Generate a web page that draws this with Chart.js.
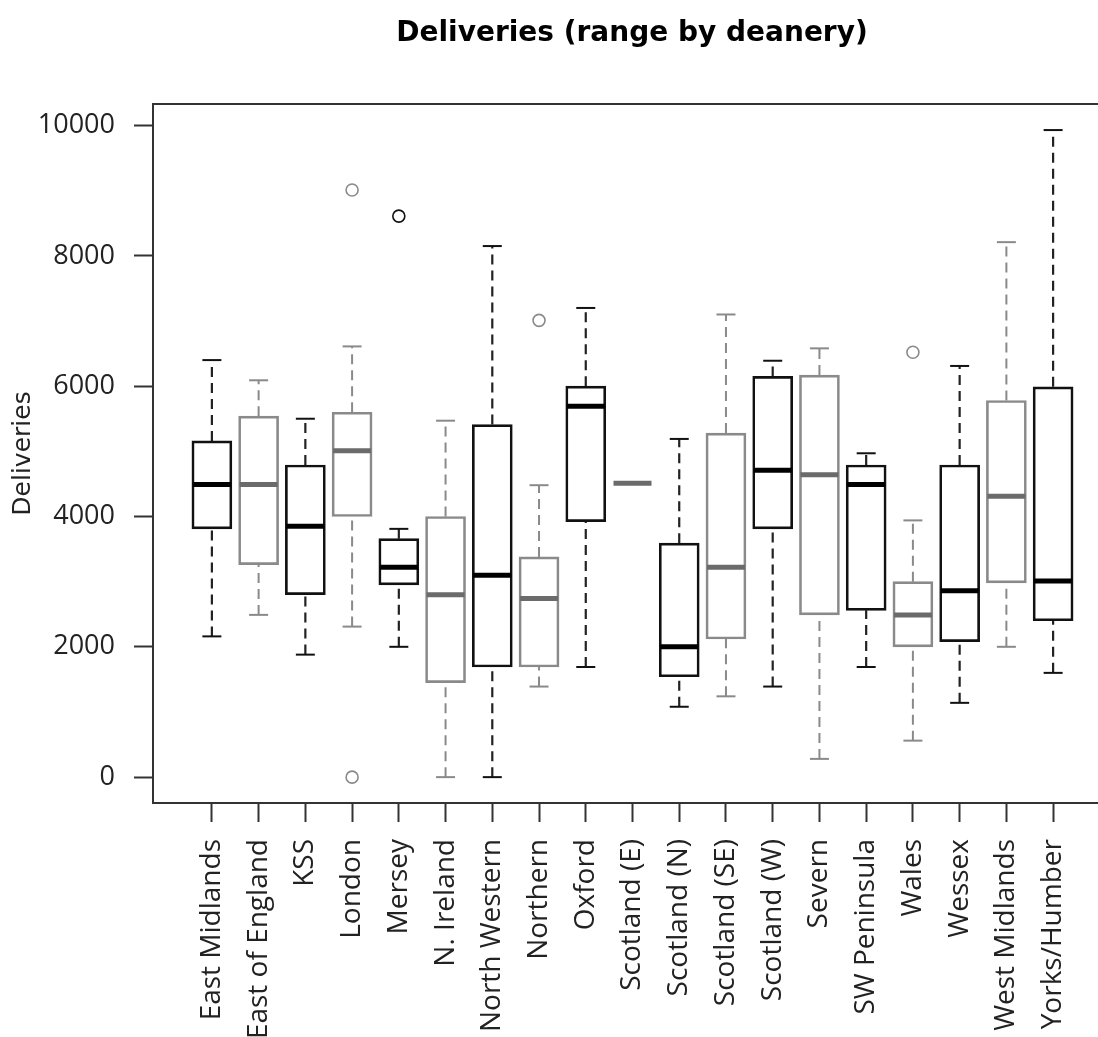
<!DOCTYPE html>
<html>
<head>
<meta charset="utf-8">
<title>Deliveries (range by deanery)</title>
<script src="https://cdn.jsdelivr.net/npm/chart.js@4.4.1/dist/chart.umd.min.js"></script>
<style>
  html, body { margin: 0; padding: 0; background: #fff; overflow: hidden; }
  canvas { display: block; }
</style>
</head>
<body>
<canvas id="deliveriesChart" width="1264" height="1037"></canvas>
<script>
// Deaneries, in plotting order
const categories = [
  "East Midlands", "East of England", "KSS", "London", "Mersey",
  "N. Ireland", "North Western", "Northern", "Oxford", "Scotland (E)",
  "Scotland (N)", "Scotland (SE)", "Scotland (W)", "Severn", "SW Peninsula",
  "Wales", "Wessex", "West Midlands", "Yorks/Humber",
];

// Five-number summaries
const whiskerLow  = [2160, 2490, 1880, 2310, 2000,    0,    0, 1390, 1690, 4510, 1080, 1240, 1390,  280, 1690,  560, 1140, 2000, 1600];
const q1          = [3810, 3260, 2800, 4000, 2950, 1450, 1690, 1690, 3920, 4510, 1540, 2120, 3810, 2490, 2560, 2000, 2080, 2980, 2400];
const median      = [4490, 4490, 3850, 5010, 3220, 2800, 3100, 2740, 5690, 4510, 2000, 3220, 4710, 4640, 4490, 2490, 2860, 4310, 3010];
const q3          = [5160, 5540, 4790, 5600, 3660, 4000, 5410, 3380, 6000, 4510, 3590, 5280, 6150, 6170, 4790, 3000, 4790, 5780, 5990];
const whiskerHigh = [6400, 6090, 5500, 6610, 3810, 5470, 8150, 4480, 7200, 4510, 5190, 7100, 6390, 6580, 4970, 3940, 6310, 8210, 9930];

// Outliers: category index and value
const outlierCategory = [3, 3, 4, 7, 15];
const outlierValue    = [9010, 0, 8610, 7010, 6520];

const yTicks = [0, 2000, 4000, 6000, 8000, 10000];

// boxes alternate black / grey
const BOX_BLACK = "#111111";
const BOX_GREY = "#8a8a8a";
const MED_BLACK = "#000000";
const MED_GREY = "#6b6b6b";
function isGrey(i) { return i % 2 === 1; }
function boxColor(i) { return isGrey(i) ? BOX_GREY : BOX_BLACK; }

const xs = categories.map((c, i) => i + 1);
const hasBox = categories.map((c, i) => whiskerHigh[i] > whiskerLow[i]);

const boxData = [];
const capData = [];
xs.forEach((x, i) => {
  if (!hasBox[i]) return;
  boxData.push({ x: x, y: [q1[i], q3[i]], c: i });
  capData.push({ x: x, y: whiskerLow[i], c: i }, { x: x, y: whiskerHigh[i], c: i });
});

function whiskerPoints(grey) {
  const pts = [];
  xs.forEach((x, i) => {
    if (!hasBox[i] || isGrey(i) !== grey) return;
    pts.push({ x: x, y: q3[i] }, { x: x, y: whiskerHigh[i] }, { x: x, y: null });
    pts.push({ x: x, y: whiskerLow[i] }, { x: x, y: q1[i] }, { x: x, y: null });
  });
  return pts;
}

const medianData = xs.map((x, i) => ({ x: x, y: median[i], c: i }));
const outlierData = outlierCategory.map((c, k) => ({ x: c + 1, y: outlierValue[k], c: c }));

// box frame around the plot region
const framePlugin = {
  id: "frame",
  afterDraw(chart) {
    const { ctx, chartArea } = chart;
    ctx.save();
    ctx.strokeStyle = "#333";
    ctx.lineWidth = 2;
    ctx.strokeRect(chartArea.left, chartArea.top,
      chartArea.right - chartArea.left, chartArea.bottom - chartArea.top);
    ctx.restore();
  },
};

const tickFont = { family: "Open Sans", size: 27 };

const ctx = document.getElementById("deliveriesChart").getContext("2d");
const deliveriesChart = new Chart(ctx, {
  type: "bar",
  data: {
    datasets: [
      {
        type: "scatter",
        data: medianData,
        pointStyle: "line",
        pointRadius: 19,
        pointHoverRadius: 19,
        pointBorderWidth: 5,
        pointHoverBorderWidth: 5,
        pointBorderColor: (c) => (isGrey(c.raw.c) ? MED_GREY : MED_BLACK),
      },
      {
        type: "scatter",
        data: capData,
        pointStyle: "line",
        pointRadius: 9.5,
        pointHoverRadius: 9.5,
        pointBorderWidth: 2,
        pointBorderColor: (c) => boxColor(c.raw.c),
      },
      {
        type: "scatter",
        data: outlierData,
        pointStyle: "circle",
        pointRadius: 6,
        pointHoverRadius: 6,
        pointBorderWidth: 1.6,
        pointBackgroundColor: "#fff",
        pointBorderColor: (c) => boxColor(c.raw.c),
      },
      {
        type: "bar",
        data: boxData,
        backgroundColor: "rgba(0,0,0,0)",
        borderColor: (c) => boxColor(c.raw.c),
        borderWidth: 2,
        borderSkipped: false,
        barThickness: 40,
      },
      {
        type: "line",
        data: whiskerPoints(false),
        borderColor: "#222",
        borderWidth: 2.2,
        borderDash: [10, 6],
        pointRadius: 0,
        spanGaps: false,
        fill: false,
      },
      {
        type: "line",
        data: whiskerPoints(true),
        borderColor: BOX_GREY,
        borderWidth: 2,
        borderDash: [10, 6],
        pointRadius: 0,
        spanGaps: false,
        fill: false,
      },
    ],
  },
  options: {
    responsive: false,
    devicePixelRatio: 1,
    animation: false,
    scales: {
      x: {
        type: "linear",
        min: -0.26,
        max: 20.26,
        offset: false,
        afterBuildTicks: (scale) => {
          scale.ticks = xs.map((v) => ({ value: v }));
        },
        afterFit: (scale) => {
          scale.height = 234;
        },
        grid: {
          drawOnChartArea: false,
          drawTicks: true,
          tickLength: 19,
          tickWidth: 2,
          tickColor: "#333",
          offset: false,
        },
        border: { display: false },
        ticks: {
          autoSkip: false,
          maxRotation: 90,
          minRotation: 90,
          padding: 17,
          color: "#222",
          font: { family: "Open Sans", size: 28 },
          callback: function (value) {
            return categories[value - 1];
          },
        },
      },
      y: {
        type: "linear",
        min: -397,
        max: 10330,
        afterBuildTicks: (scale) => {
          scale.ticks = yTicks.map((v) => ({ value: v }));
        },
        afterFit: (scale) => {
          scale.width = 153;
        },
        grid: {
          drawOnChartArea: false,
          drawTicks: true,
          tickLength: 19,
          tickWidth: 2,
          tickColor: "#333",
        },
        border: { display: false },
        ticks: {
          padding: 19,
          color: "#222",
          font: tickFont,
          callback: function (value) {
            return String(value);
          },
        },
        title: {
          display: true,
          text: "Deliveries",
          color: "#222",
          font: { family: "DejaVu Sans", size: 25 },
          padding: { top: 8, bottom: 0 },
        },
      },
      // empty right margin so the title centres over the plot region
      yRight: {
        type: "linear",
        position: "right",
        display: true,
        grid: { display: false },
        border: { display: false },
        ticks: { display: false },
        afterFit: (scale) => {
          scale.width = 152;
        },
      },
    },
    plugins: {
      legend: { display: false },
      tooltip: { enabled: false },
      title: {
        display: true,
        text: "Deliveries (range by deanery)",
        color: "#000",
        font: { family: "DejaVu Sans", size: 28, weight: "bold" },
        padding: { top: 17, bottom: 53.4 },
      },
    },
  },
  plugins: [framePlugin],
});
</script>
</body>
</html>
